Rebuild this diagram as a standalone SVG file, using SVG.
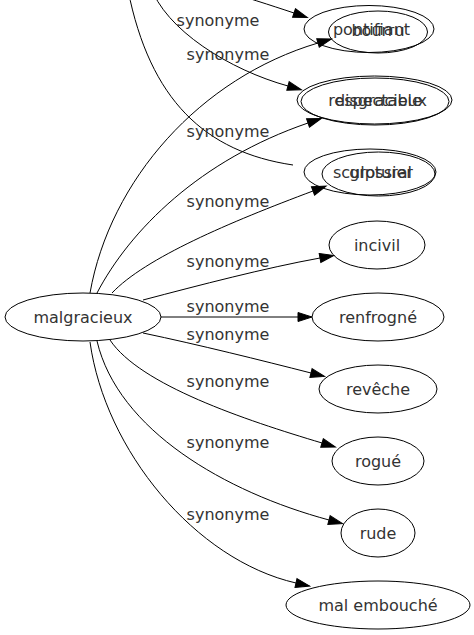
<svg xmlns="http://www.w3.org/2000/svg" width="474" height="635" viewBox="0 0 474 635">
<style>
.n{fill:none;stroke:#000;stroke-width:1}
.t{font-family:"DejaVu Sans",Verdana,sans-serif;font-size:16px;fill:#333;text-anchor:middle}
.e{fill:none;stroke:#000;stroke-width:1}
.a{marker-end:url(#ah)}
</style>
<defs>
<marker id="ah" markerUnits="userSpaceOnUse" markerWidth="16" markerHeight="12" refX="0" refY="5" orient="auto" overflow="visible">
<path d="M0,0.5 L14,5 L0,9.5 z" fill="#000" stroke="#000" stroke-width="1"/>
</marker>
</defs>
<rect width="474" height="635" fill="#fff"/>
<g id="edges">
<path class="e a" d="M215,-12 C245,-3 270,5 294,13"/>
<path class="e a" d="M90,293 C110,180 200,78 318,43"/>
<path class="e a" d="M150,-15 C165,30 230,70 288,86"/>
<path class="e a" d="M97,293 C130,230 200,160 308,123"/>
<path class="e" d="M128,-10 C150,100 205,152 293,165"/>
<path class="e a" d="M112,293 C145,258 230,222 313,191"/>
<path class="e a" d="M143,300 C200,285 265,268 320,258"/>
<path class="e a" d="M161,317 L298,317"/>
<path class="e a" d="M143,333 C200,345 260,360 311,373"/>
<path class="e a" d="M110,340 C140,385 245,420 322,443"/>
<path class="e a" d="M97,341 C118,430 225,492 329,520"/>
<path class="e a" d="M90,342 C105,450 195,560 296,583"/>
<text class="t" x="218" y="26">synonyme</text>
<text class="t" x="228" y="60">synonyme</text>
<text class="t" x="228" y="137">synonyme</text>
<text class="t" x="228" y="207">synonyme</text>
<text class="t" x="228" y="267">synonyme</text>
<text class="t" x="228" y="312">synonyme</text>
<text class="t" x="228" y="340">synonyme</text>
<text class="t" x="228" y="387">synonyme</text>
<text class="t" x="228" y="448">synonyme</text>
<text class="t" x="228" y="520">synonyme</text>
</g>
<g id="node-malgracieux"><ellipse class="n" cx="83" cy="317" rx="78" ry="24"/><text class="t" x="83" y="322.5">malgracieux</text></g>
<g id="node-pontifiant"><ellipse class="n" cx="369" cy="29" rx="65" ry="23.5"/><text class="t" x="371.5" y="35">pontifiant</text></g>
<g id="node-bourru"><ellipse class="n" cx="378" cy="32" rx="49.5" ry="21"/><text class="t" x="378" y="36">bourru</text></g>
<g id="node-respectable"><ellipse class="n" cx="374.5" cy="100" rx="77.5" ry="24"/><text class="t" x="375" y="106">respectable</text></g>
<g id="node-disgracieux"><ellipse class="n" cx="375" cy="101.5" rx="74" ry="23.5"/><text class="t" x="381" y="106">disgracieux</text></g>
<g id="node-sculptural"><ellipse class="n" cx="370" cy="172" rx="66" ry="23"/><text class="t" x="372.5" y="178">sculptural</text></g>
<g id="node-grossier"><ellipse class="n" cx="378.5" cy="174" rx="56.5" ry="22"/><text class="t" x="381" y="178">grossier</text></g>
<g id="node-incivil"><ellipse class="n" cx="377" cy="245" rx="48" ry="24"/><text class="t" x="377" y="250.5">incivil</text></g>
<g id="node-renfrogne"><ellipse class="n" cx="378" cy="317" rx="66" ry="24"/><text class="t" x="378" y="322.5">renfrogné</text></g>
<g id="node-reveche"><ellipse class="n" cx="378" cy="389" rx="59" ry="24"/><text class="t" x="378" y="394.5">revêche</text></g>
<g id="node-rogue"><ellipse class="n" cx="378" cy="461" rx="46" ry="24"/><text class="t" x="378" y="466.5">rogué</text></g>
<g id="node-rude"><ellipse class="n" cx="378" cy="533" rx="37" ry="24"/><text class="t" x="378" y="538.5">rude</text></g>
<g id="node-mal-embouche"><ellipse class="n" cx="378" cy="605" rx="92" ry="24"/><text class="t" x="378" y="610.5">mal embouché</text></g>
</svg>
